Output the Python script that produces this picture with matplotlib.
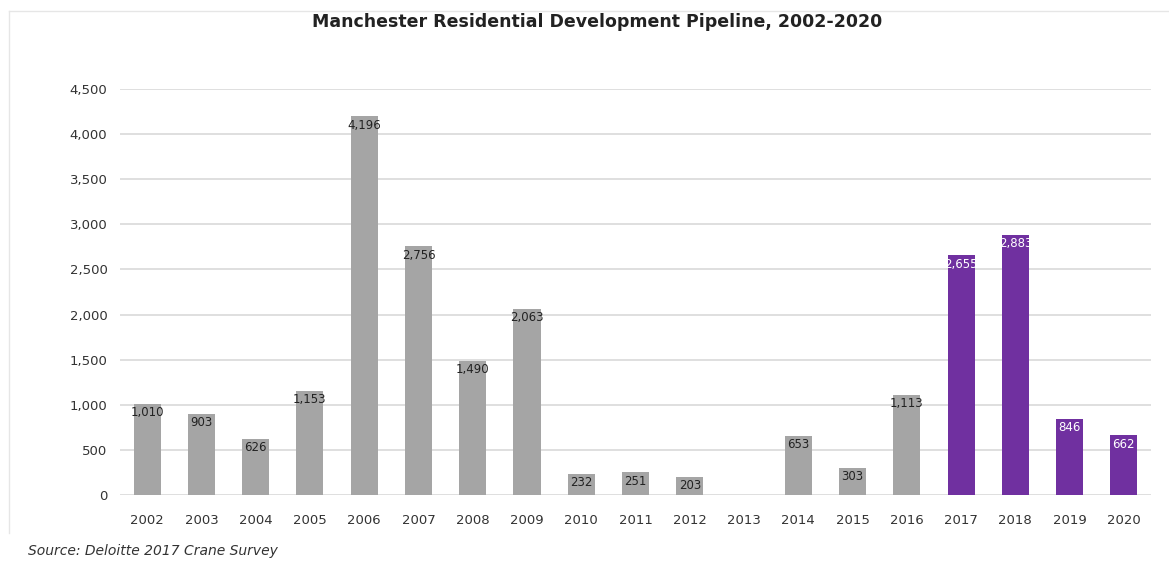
import numpy as np
import matplotlib
matplotlib.use('Agg')
import matplotlib.pyplot as plt

matplotlib.rcParams.update({'font.family': ['DejaVu Sans']})

years = ['2002', '2003', '2004', '2005', '2006', '2007', '2008', '2009', '2010', '2011',
         '2012', '2013', '2014', '2015', '2016', '2017', '2018', '2019', '2020']
units = [1010, 903, 626, 1153, 4196, 2756, 1490, 2063, 232, 251,
         203, 0, 653, 303, 1113, 2655, 2883, 846, 662]
forecast_from = '2017'

GREY = '#a5a5a5'
PURPLE = '#7030a0'

fig = plt.figure(figsize=(11.69, 5.76), dpi=100)
ax = fig.add_axes([120 / 1169, 81 / 576, 1031 / 1169, 406 / 576])

x = np.arange(len(years))
split = years.index(forecast_from)
colors = [GREY if i < split else PURPLE for i in range(len(years))]
bars = ax.bar(x, units, width=0.5, color=colors, zorder=3)

for i, (b, v) in enumerate(zip(bars, units)):
    if v == 0:
        continue
    ax.text(b.get_x() + b.get_width() / 2, v - 25, '{:,}'.format(v),
            ha='center', va='top', fontsize=8.5,
            color='white' if i >= split else '#222222', zorder=4)

ax.set_xlim(-0.5, len(years) - 0.5)
ax.set_ylim(0, 4500)
ax.set_yticks(np.arange(0, 4501, 500))
ax.set_yticklabels(['{:,}'.format(t) for t in range(0, 4501, 500)])
ax.set_xticks(x)
ax.set_xticklabels(years)
ax.tick_params(axis='both', length=0, labelsize=9.5, colors='#333333')
ax.tick_params(axis='y', pad=9)
ax.tick_params(axis='x', pad=14)
ax.yaxis.grid(True, color='#d9d9d9', linewidth=1.2, zorder=0)
for s in ax.spines.values():
    s.set_visible(False)

fig.text(597 / 1169, 1 - 22 / 576, 'Manchester Residential Development Pipeline, 2002-2020',
         ha='center', va='center', fontsize=12.5, fontweight='bold', color='#222222')
fig.text(28 / 1169, 1 - 551 / 576, 'Source: Deloitte 2017 Crane Survey',
         ha='left', va='center', fontsize=10, style='italic', color='#333333')

# faint frame around the chart
fig.add_artist(plt.Line2D([9 / 1169, 1], [1 - 11 / 576, 1 - 11 / 576],
                          transform=fig.transFigure, color='#e6e6e6', linewidth=1))
fig.add_artist(plt.Line2D([9 / 1169, 9 / 1169], [1 - 11 / 576, 1 - 533 / 576],
                          transform=fig.transFigure, color='#e6e6e6', linewidth=1))

fig.savefig('out.png', dpi=100)
